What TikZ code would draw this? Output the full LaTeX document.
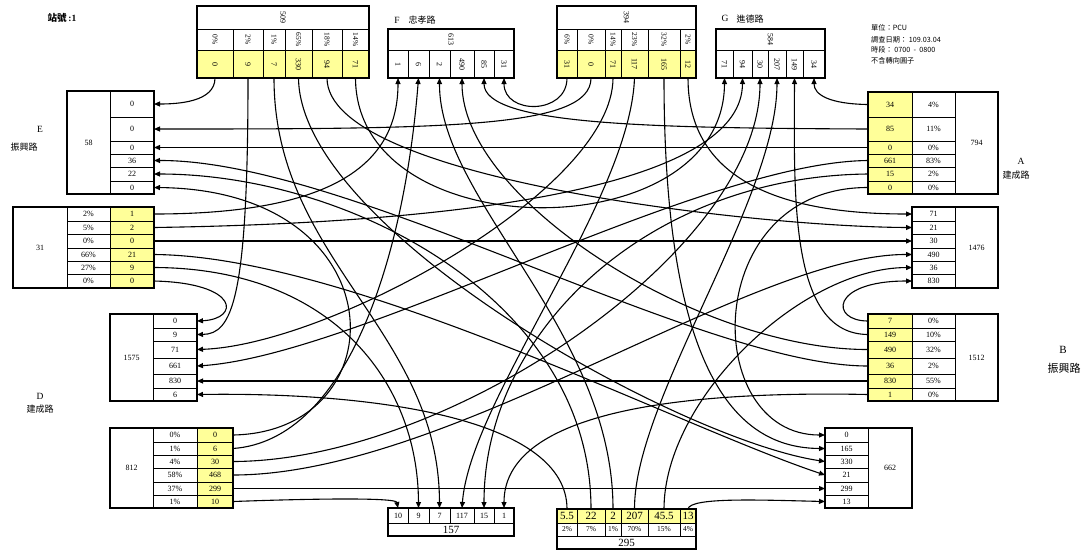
\documentclass[tikz,border=0pt]{standalone}
\usepackage{fontspec}
\setmainfont{Liberation Serif}
\newfontfamily\cjk{Noto Sans CJK TC}
\usepackage{graphicx}
\usetikzlibrary{arrows.meta}
\definecolor{cellyellow}{RGB}{255,255,153}
\newcommand\rot[1]{\rotatebox{-90}{#1}}
\newcommand\cellbox[7]{%
 \pgfmathsetmacro\cbw{#4-#2}\pgfmathsetmacro\cbh{#5-#3}%
 \pgfmathsetmacro\cbx{(#2+#4)/2}\pgfmathsetmacro\cby{(#3+#5)/2}%
 \node[cellbase,#6,minimum width=\cbw pt,minimum height=\cbh pt] (#1) at (\cbx,\cby) {#7};}
\begin{document}
\begin{tikzpicture}[x=1pt,y=-1pt,
 cellbase/.style={draw,line width=0.6pt,inner sep=0pt,outer sep=0pt,anchor=center,font=\fontsize{8}{9}\selectfont},
 yel/.style={fill=cellyellow},
 small/.style={font=\fontsize{7.5}{8}\selectfont},
 big/.style={font=\fontsize{11}{12}\selectfont},
 box/.style={line width=1.3pt},
 flow/.style={line width=1.1pt,-{Triangle[length=6pt,width=5pt]}},
 lab/.style={inner sep=0pt,font=\cjk\fontsize{9}{10}\selectfont},
 letter/.style={inner sep=0pt,font=\fontsize{9.5}{10}\selectfont},
 info/.style={inner sep=0pt,anchor=west,font=\cjk\fontsize{7.2}{8}\selectfont}]
\useasboundingbox (0,0) rectangle (1083,550);
\fill[white] (0,0) rectangle (1083,550);

% ---------- NW origin (509)
\cellbox{nwh}{197}{6}{369}{29}{}{\rot{509}}
\cellbox{nwp1}{197}{29}{233}{50}{small}{\rot{0\%}}
\cellbox{nwp2}{233}{29}{263}{50}{small}{\rot{2\%}}
\cellbox{nwp3}{263}{29}{285}{50}{small}{\rot{1\%}}
\cellbox{nwp4}{285}{29}{312}{50}{small}{\rot{65\%}}
\cellbox{nwp5}{312}{29}{342}{50}{small}{\rot{18\%}}
\cellbox{nwp6}{342}{29}{369}{50}{small}{\rot{14\%}}
\cellbox{nw1}{197}{50}{233}{78}{yel}{\rot{0}}
\cellbox{nw2}{233}{50}{263}{78}{yel}{\rot{9}}
\cellbox{nw3}{263}{50}{285}{78}{yel}{\rot{7}}
\cellbox{nw4}{285}{50}{312}{78}{yel}{\rot{330}}
\cellbox{nw5}{312}{50}{342}{78}{yel}{\rot{94}}
\cellbox{nw6}{342}{50}{369}{78}{yel}{\rot{71}}
\draw[box] (nwh.north west) rectangle (nw6.south east);

% ---------- F destination (613)
\cellbox{fh}{388}{29}{514}{50}{}{\rot{613}}
\cellbox{f1}{388}{50}{408}{78}{}{\rot{1}}
\cellbox{f2}{408}{50}{429}{78}{}{\rot{6}}
\cellbox{f3}{429}{50}{450}{78}{}{\rot{2}}
\cellbox{f4}{450}{50}{474}{78}{}{\rot{490}}
\cellbox{f5}{474}{50}{494}{78}{}{\rot{85}}
\cellbox{f6}{494}{50}{514}{78}{}{\rot{31}}
\draw[box] (fh.north west) rectangle (f6.south east);

% ---------- Mid origin (394)
\cellbox{mh}{557}{6}{696}{29}{}{\rot{394}}
\cellbox{mp1}{557}{29}{577}{50}{small}{\rot{6\%}}
\cellbox{mp2}{577}{29}{605}{50}{small}{\rot{0\%}}
\cellbox{mp3}{605}{29}{621}{50}{small}{\rot{14\%}}
\cellbox{mp4}{621}{29}{648}{50}{small}{\rot{23\%}}
\cellbox{mp5}{648}{29}{680}{50}{small}{\rot{32\%}}
\cellbox{mp6}{680}{29}{696}{50}{small}{\rot{2\%}}
\cellbox{m1}{557}{50}{577}{78}{yel}{\rot{31}}
\cellbox{m2}{577}{50}{605}{78}{yel}{\rot{0}}
\cellbox{m3}{605}{50}{621}{78}{yel}{\rot{71}}
\cellbox{m4}{621}{50}{648}{78}{yel}{\rot{117}}
\cellbox{m5}{648}{50}{680}{78}{yel}{\rot{165}}
\cellbox{m6}{680}{50}{696}{78}{yel}{\rot{12}}
\draw[box] (mh.north west) rectangle (m6.south east);

% ---------- G destination (584)
\cellbox{gh}{716}{29}{825}{50}{}{\rot{584}}
\cellbox{g1}{716}{50}{733}{78}{}{\rot{71}}
\cellbox{g2}{733}{50}{752}{78}{}{\rot{94}}
\cellbox{g3}{752}{50}{768}{78}{}{\rot{30}}
\cellbox{g4}{768}{50}{786}{78}{}{\rot{207}}
\cellbox{g5}{786}{50}{803}{78}{}{\rot{149}}
\cellbox{g6}{803}{50}{825}{78}{}{\rot{34}}
\draw[box] (gh.north west) rectangle (g6.south east);

% ---------- E destination (58)
\cellbox{et}{67}{91}{110}{194}{}{58}
\cellbox{e1}{110}{91}{154}{117}{}{0}
\cellbox{e2}{110}{117}{154}{141}{}{0}
\cellbox{e3}{110}{141}{154}{154}{}{0}
\cellbox{e4}{110}{154}{154}{167}{}{36}
\cellbox{e5}{110}{167}{154}{181}{}{22}
\cellbox{e6}{110}{181}{154}{194}{}{0}
\draw[box] (et.north west) rectangle (e6.south east);

% ---------- A origin (794)
\cellbox{a1}{868}{92}{912}{117}{yel}{34}
\cellbox{a2}{868}{117}{912}{141}{yel}{85}
\cellbox{a3}{868}{141}{912}{154}{yel}{0}
\cellbox{a4}{868}{154}{912}{167}{yel}{661}
\cellbox{a5}{868}{167}{912}{181}{yel}{15}
\cellbox{a6}{868}{181}{912}{194}{yel}{0}
\cellbox{ap1}{912}{92}{955}{117}{}{4\%}
\cellbox{ap2}{912}{117}{955}{141}{}{11\%}
\cellbox{ap3}{912}{141}{955}{154}{}{0\%}
\cellbox{ap4}{912}{154}{955}{167}{}{83\%}
\cellbox{ap5}{912}{167}{955}{181}{}{2\%}
\cellbox{ap6}{912}{181}{955}{194}{}{0\%}
\cellbox{at}{955}{92}{998}{194}{}{794}
\draw[box] (a1.north west) rectangle (at.south east);

% ---------- L origin (31)
\cellbox{lt}{13}{207}{67}{288}{}{31}
\cellbox{lp1}{67}{207}{110}{221}{}{2\%}
\cellbox{lp2}{67}{221}{110}{234}{}{5\%}
\cellbox{lp3}{67}{234}{110}{248}{}{0\%}
\cellbox{lp4}{67}{248}{110}{261}{}{66\%}
\cellbox{lp5}{67}{261}{110}{274}{}{27\%}
\cellbox{lp6}{67}{274}{110}{288}{}{0\%}
\cellbox{l1}{110}{207}{154}{221}{yel}{1}
\cellbox{l2}{110}{221}{154}{234}{yel}{2}
\cellbox{l3}{110}{234}{154}{248}{yel}{0}
\cellbox{l4}{110}{248}{154}{261}{yel}{21}
\cellbox{l5}{110}{261}{154}{274}{yel}{9}
\cellbox{l6}{110}{274}{154}{288}{yel}{0}
\draw[box] (lt.north west) rectangle (l6.south east);

% ---------- Right destination (1476)
\cellbox{r1}{912}{207}{955}{221}{}{71}
\cellbox{r2}{912}{221}{955}{234}{}{21}
\cellbox{r3}{912}{234}{955}{248}{}{30}
\cellbox{r4}{912}{248}{955}{261}{}{490}
\cellbox{r5}{912}{261}{955}{274}{}{36}
\cellbox{r6}{912}{274}{955}{288}{}{830}
\cellbox{rt}{955}{207}{998}{288}{}{1476}
\draw[box] (r1.north west) rectangle (rt.south east);

% ---------- D destination (1575)
\cellbox{dt}{110}{314}{153}{401}{}{1575}
\cellbox{d1}{153}{314}{197}{328}{}{0}
\cellbox{d2}{153}{328}{197}{341}{}{9}
\cellbox{d3}{153}{341}{197}{358}{}{71}
\cellbox{d4}{153}{358}{197}{374}{}{661}
\cellbox{d5}{153}{374}{197}{388}{}{830}
\cellbox{d6}{153}{388}{197}{401}{}{6}
\draw[box] (dt.north west) rectangle (d6.south east);

% ---------- B origin (1512)
\cellbox{b1}{868}{314}{912}{328}{yel}{7}
\cellbox{b2}{868}{328}{912}{341}{yel}{149}
\cellbox{b3}{868}{341}{912}{358}{yel}{490}
\cellbox{b4}{868}{358}{912}{374}{yel}{36}
\cellbox{b5}{868}{374}{912}{388}{yel}{830}
\cellbox{b6}{868}{388}{912}{401}{yel}{1}
\cellbox{bp1}{912}{314}{955}{328}{}{0\%}
\cellbox{bp2}{912}{328}{955}{341}{}{10\%}
\cellbox{bp3}{912}{341}{955}{358}{}{32\%}
\cellbox{bp4}{912}{358}{955}{374}{}{2\%}
\cellbox{bp5}{912}{374}{955}{388}{}{55\%}
\cellbox{bp6}{912}{388}{955}{401}{}{0\%}
\cellbox{bt}{955}{314}{998}{401}{}{1512}
\draw[box] (b1.north west) rectangle (bt.south east);

% ---------- BL origin (812)
\cellbox{qt}{110}{428}{153}{508}{}{812}
\cellbox{qp1}{153}{428}{197}{442}{}{0\%}
\cellbox{qp2}{153}{442}{197}{455}{}{1\%}
\cellbox{qp3}{153}{455}{197}{468}{}{4\%}
\cellbox{qp4}{153}{468}{197}{482}{}{58\%}
\cellbox{qp5}{153}{482}{197}{495}{}{37\%}
\cellbox{qp6}{153}{495}{197}{508}{}{1\%}
\cellbox{q1}{197}{428}{233}{442}{yel}{0}
\cellbox{q2}{197}{442}{233}{455}{yel}{6}
\cellbox{q3}{197}{455}{233}{468}{yel}{30}
\cellbox{q4}{197}{468}{233}{482}{yel}{468}
\cellbox{q5}{197}{482}{233}{495}{yel}{299}
\cellbox{q6}{197}{495}{233}{508}{yel}{10}
\draw[box] (qt.north west) rectangle (q6.south east);

% ---------- BR destination (662)
\cellbox{p1}{825}{428}{868}{442}{}{0}
\cellbox{p2}{825}{442}{868}{455}{}{165}
\cellbox{p3}{825}{455}{868}{468}{}{330}
\cellbox{p4}{825}{468}{868}{482}{}{21}
\cellbox{p5}{825}{482}{868}{495}{}{299}
\cellbox{p6}{825}{495}{868}{508}{}{13}
\cellbox{pt}{868}{428}{912}{508}{}{662}
\draw[box] (p1.north west) rectangle (pt.south east);

% ---------- Bottom destination (157)
\cellbox{s1}{388}{508}{408}{523}{}{10}
\cellbox{s2}{408}{508}{429}{523}{}{9}
\cellbox{s3}{429}{508}{450}{523}{}{7}
\cellbox{s4}{450}{508}{474}{523}{}{117}
\cellbox{s5}{474}{508}{494}{523}{}{15}
\cellbox{s6}{494}{508}{514}{523}{}{1}
\cellbox{st}{388}{523}{514}{536}{big}{157}
\draw[box] (s1.north west) rectangle (st.south east);

% ---------- Bottom origin (295)
\cellbox{o1}{557}{509}{577}{523}{yel,big}{5.5}
\cellbox{o2}{577}{509}{605}{523}{yel,big}{22}
\cellbox{o3}{605}{509}{621}{523}{yel,big}{2}
\cellbox{o4}{621}{509}{648}{523}{yel,big}{207}
\cellbox{o5}{648}{509}{680}{523}{yel,big}{45.5}
\cellbox{o6}{680}{509}{696}{523}{yel,big}{13}
\cellbox{op1}{557}{523}{577}{536}{small}{2\%}
\cellbox{op2}{577}{523}{605}{536}{small}{7\%}
\cellbox{op3}{605}{523}{621}{536}{small}{1\%}
\cellbox{op4}{621}{523}{648}{536}{small}{70\%}
\cellbox{op5}{648}{523}{680}{536}{small}{15\%}
\cellbox{op6}{680}{523}{696}{536}{small}{4\%}
\cellbox{ot}{557}{536}{696}{549}{big}{295}
\draw[box] (o1.north west) rectangle (ot.south east);

% ---------- labels
\node[inner sep=0pt] (title) at (62,18) {{\cjk\bfseries\fontsize{9.5}{10}\selectfont 站號}\,\textbf{\fontsize{9.5}{10}\selectfont :1}};
\node[letter] (labE) at (40,129) {E};
\node[lab] (labEn) at (24,147) {振興路};
\node[letter] (labA) at (1021,161) {A};
\node[lab] (labAn) at (1016,175) {建成路};
\node[letter,font=\fontsize{11}{12}\selectfont] (labB) at (1063,350) {B};
\node[lab,font=\cjk\fontsize{11}{12}\selectfont] (labBn) at (1064,368) {振興路};
\node[letter] (labD) at (40,396) {D};
\node[lab] (labDn) at (40,409) {建成路};
\node[letter] (labF) at (397,20) {F};
\node[lab] (labFn) at (422,20) {忠孝路};
\node[letter] (labG) at (725,18) {G};
\node[lab] (labGn) at (750,19) {進德路};
\node[info] (inf1) at (871,28) {單位：PCU};
\node[info] (inf2) at (871,40) {調查日期： 109.03.04};
\node[info] (inf3) at (871,50) {時段： 0700 \ - \ 0800};
\node[info] (inf4) at (871,61) {不含轉向圓子};

% ---------- flows from NW
\draw[flow] (nw1.south) .. controls (215,102) and (178,104) .. (e1.east);
\draw[flow] (nw2.south) .. controls (248,300) and (232,334) .. (d2.east);
\draw[flow] (nw3.south) .. controls (274,260) and (439,330) .. (s3.north);
\draw[flow] (nw4.south) .. controls (300,230) and (680,440) .. (p3.west);
\draw[flow] (nw5.south) .. controls (327,180) and (760,227) .. (r2.west);
\draw[flow] (nw6.south) .. controls (356,250) and (724,250) .. (g1.south);
% ---------- flows from Mid
\draw[flow] (m1.south) .. controls (567,115) and (504,115) .. (f6.south);
\draw[flow] (m2.south) .. controls (591,128) and (450,129) .. (e2.east);
\draw[flow] (m3.south) .. controls (613,190) and (330,345) .. (d3.east);
\draw[flow] (m4.south) .. controls (630,200) and (470,400) .. (s4.north);
\draw[flow] (m5.south) .. controls (664,380) and (740,448) .. (p2.west);
\draw[flow] (m6.south) .. controls (688,190) and (800,214) .. (r1.west);
% ---------- flows from A
\draw[flow] (a1.west) .. controls (830,104) and (814,95) .. (g6.south);
\draw[flow] (a2.west) .. controls (650,128) and (484,125) .. (f5.south);
\draw[flow] (a3.west) -- (e3.east);
\draw[flow] (a4.west) .. controls (700,162) and (360,355) .. (d4.east);
\draw[flow] (a5.west) .. controls (650,176) and (484,330) .. (s5.north);
\draw[flow] (a6.west) .. controls (700,187) and (700,435) .. (p1.west);
% ---------- flows from B
\draw[flow] (b1.west) .. controls (830,321) and (830,281) .. (r6.west);
\draw[flow] (b2.west) .. controls (790,334) and (794,200) .. (g5.south);
\draw[flow] (b3.west) .. controls (700,350) and (462,200) .. (f4.south);
\draw[flow] (b4.west) .. controls (700,366) and (350,160) .. (e4.east);
\draw[flow] (b5.west) -- (d5.east);
\draw[flow] (b6.west) .. controls (650,390) and (504,420) .. (s6.north);
% ---------- flows from bottom origin
\draw[flow] (o1.north) .. controls (567,420) and (380,392) .. (d6.east);
\draw[flow] (o2.north) .. controls (591,300) and (350,174) .. (e5.east);
\draw[flow] (o3.north) .. controls (613,330) and (439,200) .. (f3.south);
\draw[flow] (o4.north) .. controls (634,400) and (777,200) .. (g4.south);
\draw[flow] (o5.north) .. controls (664,400) and (800,268) .. (r5.west);
\draw[flow] (o6.north) .. controls (690,497) and (760,500) .. (p6.west);
% ---------- flows from L
\draw[flow] (l1.east) .. controls (340,214) and (398,160) .. (f1.south);
\draw[flow] (l2.east) .. controls (520,222) and (742,175) .. (g2.south);
\draw[flow] (l3.east) -- (r3.west);
\draw[flow] (l4.east) .. controls (350,256) and (675,425) .. (p4.west);
\draw[flow] (l5.east) .. controls (330,268) and (418,380) .. (s2.north);
\draw[flow] (l6.east) .. controls (240,283) and (240,319) .. (d1.east);
% ---------- flows from BL
\draw[flow] (q1.east) .. controls (400,432) and (400,190) .. (e6.east);
\draw[flow] (q2.east) .. controls (350,440) and (405,250) .. (f2.south);
\draw[flow] (q3.east) .. controls (450,461) and (760,250) .. (g3.south);
\draw[flow] (q4.east) .. controls (450,475) and (750,254) .. (r4.west);
\draw[flow] (q5.east) -- (p5.west);
\draw[flow] (q6.east) .. controls (330,498) and (396,498) .. (s1.north);
\end{tikzpicture}
\end{document}
